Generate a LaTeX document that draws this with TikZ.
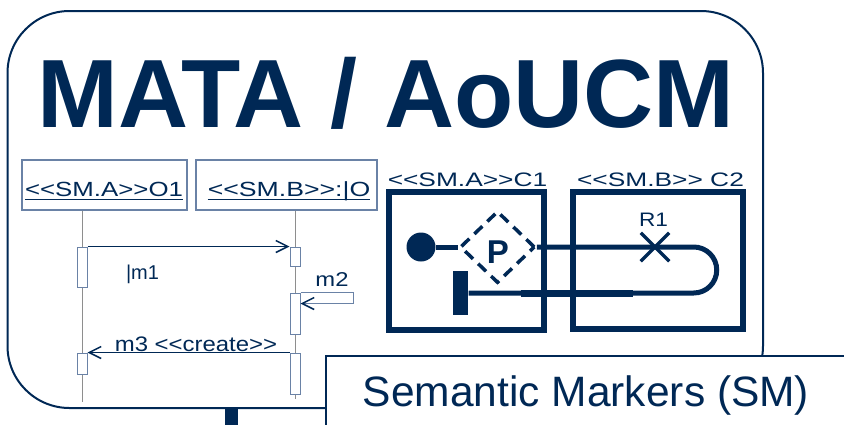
\documentclass[tikz,border=0pt]{standalone}
\usepackage{fontspec}
\setmainfont{Liberation Sans}[Ligatures=TeXOff]
\usepackage{graphicx}
\usepackage{xcolor}
\usepackage{tikz}
\usetikzlibrary{arrows.meta,positioning,shapes.geometric,shapes.misc}
\definecolor{navy}{HTML}{002855}
\definecolor{steel}{HTML}{6A82A6}
\definecolor{lifegray}{HTML}{8E8E8E}

\begin{document}
\begin{tikzpicture}[x=1pt, y=-1pt,
  frame/.style={draw=navy, line width=2pt, rounded corners=62pt, inner sep=0pt},
  objbox/.style={draw=steel, line width=1.2pt, minimum height=50pt, inner sep=0pt},
  actbar/.style={draw=steel, fill=white, line width=1pt, minimum width=10pt, inner sep=0pt},
  lifeline/.style={draw=lifegray, line width=0.8pt},
  msg/.style={draw=navy, line width=1.2pt, -{Straight Barb[length=12pt,width=12pt,line width=1.5pt]}},
  umltext/.style={text=navy, inner sep=0pt, anchor=base, font=\fontsize{20.5}{22}\selectfont},
  comptext/.style={umltext, font=\fontsize{19.5}{22}\selectfont},
  comp/.style={draw=navy, line width=6pt, inner sep=0pt},
  route/.style={draw=navy, line width=5pt},
  uline/.style={draw=navy, line width=1.3pt}
]
\useasboundingbox (0,0) rectangle (844,424);
\clip (0,0) rectangle (844,424);

\node[frame, minimum width=755.5pt, minimum height=397pt] (frame) at (385.25,209.5) {};
\node[anchor=base, text=navy, inner sep=0pt, font=\fontsize{97}{97}\selectfont\bfseries] (title) at (386,127) {MATA / AoUCM};

% sequence diagram
\node[objbox, minimum width=165pt] (o1box) at (104.4,185) {};
\node[objbox, minimum width=181pt] (o2box) at (286.5,185) {};
\node[umltext] (o1) at (104,196) {\scalebox{1.26}[1]{<<SM.A>>O1}};
\node[umltext] (o2) at (289,196) {\scalebox{1.30}[1]{<<SM.B>>:|O}};
\draw[uline] ([yshift=-3.3pt]o1.base west) -- ([yshift=-3.3pt]o1.base east);
\draw[uline] ([yshift=-3.3pt]o2.base west) -- ([yshift=-3.3pt]o2.base east);

\coordinate (l1end) at (82,402);
\coordinate (l2end) at (295,399);
\draw[lifeline] (o1box.south -| l1end) -- (l1end);
\draw[lifeline] (o2box.south -| l2end) -- (l2end);

\node[actbar, minimum height=40pt] (act1a) at (82,267) {};
\node[actbar, minimum height=21pt] (act1b) at (82,363.5) {};
\node[actbar, minimum height=19pt] (act2a) at (295,256.5) {};
\node[actbar, minimum height=41pt] (act2b) at (295,313.5) {};
\node[actbar, minimum height=41pt] (act2c) at (295,373.5) {};

\draw[msg] (act1a.north east) -- (act2a.north west);
\node[umltext, font=\fontsize{20}{22}\selectfont] (m1) at (142.5,279) {|m1};
\draw[draw=steel, line width=1.2pt, -{Straight Barb[length=12pt,width=12pt,line width=1.5pt,color=navy]}]
  (act2b.north east) -- ++(53,0) -- ++(0,11) -- ([yshift=-11pt]act2b.north east);
\node[umltext, font=\fontsize{20}{22}\selectfont] (m2) at (332,286) {\scalebox{1.19}[1]{m2}};
\draw[msg] (act2c.north west) -- (act1b.north east);
\node[umltext, font=\fontsize{21}{23}\selectfont] (m3) at (196,351.7) {\scalebox{1.14}[1]{m3 <<create>>}};

% components and path
\node[comp, minimum width=155pt, minimum height=138pt] (compA) at (466.5,261) {};
\node[comp, minimum width=170pt, minimum height=137pt] (compB) at (658,260.5) {};
\node[comptext] (compAlbl) at (467.5,186) {\scalebox{1.35}[1]{<<SM.A>>C1}};
\node[comptext] (compBlbl) at (660.5,186) {\scalebox{1.35}[1]{<<SM.B>> C2}};

\node[circle, fill=navy, minimum size=29pt, inner sep=0pt] (start) at (421,247) {};
\node[diamond, aspect=1, draw=navy, line width=3.5pt, dash pattern=on 11pt off 7pt,
  minimum width=75pt, minimum height=72pt, inner sep=0pt] (stub) at (497.5,247) {};
\node[anchor=base, text=navy, inner sep=0pt, font=\fontsize{33}{33}\selectfont\bfseries] (ptxt) at (498,263) {P};
\node[fill=navy, minimum width=15.6pt, minimum height=44pt, inner sep=0pt] (stop) at (460.5,293) {};

\draw[route] (start) -- (stub.west);
\draw[route] (stub.east) -- ++(157,0) arc[start angle=-90, end angle=90, radius=23] -- (stop.east);
\draw[navy, line width=7pt] ([xshift=52pt]stop.east) -- ++(112,0);

\node[cross out, draw=navy, line width=3.5pt, minimum size=25pt, inner sep=0pt] (r1) at (655,247) {};
\node[comptext] (r1lbl) at (653.5,226) {\scalebox{1.16}[1]{R1}};

% caption box
\node[draw=navy, fill=white, line width=2pt, anchor=north west, minimum width=560pt, minimum height=100pt, inner sep=0pt] (smbox) at (325,355) {};
\node[anchor=base west, text=navy, inner sep=0pt, font=\fontsize{42.5}{43}\selectfont] (smtxt) at (362.7,406.7) {Semantic Markers (SM)};
\node[fill=navy, anchor=north, minimum width=13pt, minimum height=20pt, inner sep=0pt] (stem) at (231.5,408) {};
\end{tikzpicture}
\end{document}
